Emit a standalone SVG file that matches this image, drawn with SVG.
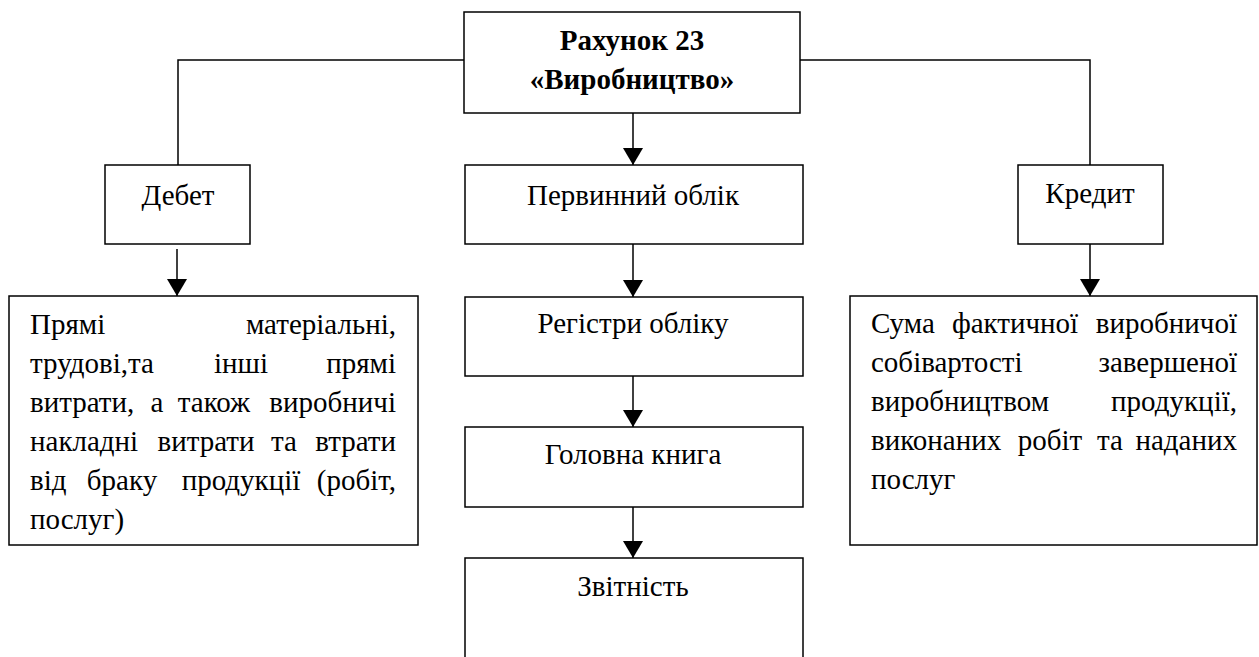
<svg xmlns="http://www.w3.org/2000/svg" width="1259" height="657" viewBox="0 0 1259 657">
<defs>
<marker id="ah" markerUnits="userSpaceOnUse" markerWidth="17" markerHeight="20" refX="17" refY="10" orient="auto">
<path d="M0,0 L17,10 L0,20 z" fill="#000"/>
</marker>
<style>
.box{fill:#fff;stroke:#000;stroke-width:1.5}
.t{font-family:"Liberation Serif","Times New Roman",serif;font-size:29px;fill:#000}
.c{text-anchor:middle}
.e{text-anchor:end}
.b{font-weight:bold}
.ln{fill:none;stroke:#000;stroke-width:1.5}
</style>
</defs>
<rect width="1259" height="657" fill="#fff"/>
<g id="connectors">
<polyline class="ln" points="464,60 178,60 178,165"/>
<polyline class="ln" points="800,60 1090,60 1090,165"/>
<line class="ln" x1="633" y1="113" x2="633" y2="165" marker-end="url(#ah)"/>
<line class="ln" x1="177" y1="249" x2="177" y2="296" marker-end="url(#ah)"/>
<line class="ln" x1="1090" y1="244" x2="1090" y2="296" marker-end="url(#ah)"/>
<line class="ln" x1="633" y1="244" x2="633" y2="297" marker-end="url(#ah)"/>
<line class="ln" x1="633" y1="376" x2="633" y2="427" marker-end="url(#ah)"/>
<line class="ln" x1="633" y1="507" x2="633" y2="558" marker-end="url(#ah)"/>
</g>
<g id="node-top">
<rect class="box" x="464" y="12" width="336" height="101"/>
<text class="t c b" x="632" y="50">Рахунок 23</text>
<text class="t c b" x="632" y="89">«Виробництво»</text>
</g>
<g id="node-debet">
<rect class="box" x="105" y="165" width="145" height="79"/>
<text class="t c" x="178" y="205">Дебет</text>
</g>
<g id="node-pervynnyi">
<rect class="box" x="465" y="165" width="338" height="79"/>
<text class="t c" x="633" y="205">Первинний облік</text>
</g>
<g id="node-kredyt">
<rect class="box" x="1018" y="165" width="145" height="79"/>
<text class="t c" x="1090" y="203">Кредит</text>
</g>
<g id="node-debet-detail">
<rect class="box" x="9" y="296" width="409" height="249"/>
<text class="t" x="30" y="334">Прямі</text>
<text class="t e" x="396" y="334">матеріальні,</text>
<text class="t" x="30" y="373">трудові,та</text>
<text class="t c" x="241" y="373">інші</text>
<text class="t e" x="396" y="373">прямі</text>
<text class="t" x="30" y="412">витрати,</text>
<text class="t c" x="157" y="412">а</text>
<text class="t c" x="214" y="412">також</text>
<text class="t e" x="396" y="412">виробничі</text>
<text class="t" x="30" y="451">накладні</text>
<text class="t c" x="206" y="451">витрати</text>
<text class="t c" x="284" y="451">та</text>
<text class="t e" x="396" y="451">втрати</text>
<text class="t" x="30" y="490">від</text>
<text class="t c" x="122" y="490">браку</text>
<text class="t c" x="241" y="490">продукції</text>
<text class="t e" x="396" y="490">(робіт,</text>
<text class="t" x="30" y="529">послуг)</text>
</g>
<g id="node-registry">
<rect class="box" x="465" y="297" width="338" height="79"/>
<text class="t c" x="633" y="333">Регістри обліку</text>
</g>
<g id="node-golovna">
<rect class="box" x="465" y="427" width="338" height="80"/>
<text class="t c" x="633" y="464">Головна книга</text>
</g>
<g id="node-zvitnist">
<rect class="box" x="465" y="558" width="338" height="110"/>
<text class="t c" x="633" y="596">Звітність</text>
</g>
<g id="node-kredyt-detail">
<rect class="box" x="850" y="296" width="407" height="249"/>
<text class="t" x="871" y="333">Сума</text>
<text class="t c" x="1015" y="333">фактичної</text>
<text class="t e" x="1237" y="333">виробничої</text>
<text class="t" x="871" y="372">собівартості</text>
<text class="t e" x="1237" y="372">завершеної</text>
<text class="t" x="871" y="411">виробництвом</text>
<text class="t e" x="1237" y="411">продукції,</text>
<text class="t" x="871" y="450">виконаних</text>
<text class="t c" x="1050" y="450">робіт</text>
<text class="t c" x="1110" y="450">та</text>
<text class="t e" x="1237" y="450">наданих</text>
<text class="t" x="871" y="489">послуг</text>
</g>
</svg>
